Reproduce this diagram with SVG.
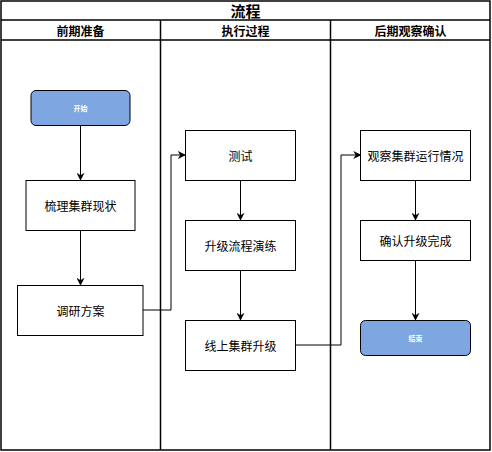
<svg xmlns="http://www.w3.org/2000/svg" width="492" height="452" viewBox="0 0 492 452">
<defs>
<marker id="ah" viewBox="0 0 10 10" refX="9" refY="5" markerWidth="8" markerHeight="8" orient="auto" markerUnits="userSpaceOnUse"><path d="M0,0 L10,5 L0,10 L3,5 Z" fill="#000"/></marker>
</defs>
<style>
text{font-family:"Noto Sans CJK SC","Noto Sans",sans-serif;text-anchor:middle;dominant-baseline:central;fill:#000}
.lane{fill:none;stroke:#000;stroke-width:1.5}
.box{fill:#fff;stroke:#000;stroke-width:1}
.term{fill:#7EA6E0;stroke:#000;stroke-width:1}
.t{font-size:12px}
.tw{font-size:7px;font-weight:bold;fill:#fff}
.h{font-size:12px;font-weight:bold}
.title{font-size:15px;font-weight:bold}
.c{fill:none;stroke:#000;stroke-width:1}
</style>
<rect width="492" height="452" fill="#fff"/>
<g id="pool">
<rect class="lane" x="1" y="1" width="489" height="449"/>
<line class="lane" x1="1" y1="20" x2="490" y2="20"/>
<line class="lane" x1="1" y1="40" x2="490" y2="40"/>
<line class="lane" x1="160.5" y1="20" x2="160.5" y2="450"/>
<line class="lane" x1="330.5" y1="20" x2="330.5" y2="450"/>
<text class="title" x="245.5" y="10.5">流程</text>
<text class="h" x="80.5" y="30">前期准备</text>
<text class="h" x="245.5" y="30">执行过程</text>
<text class="h" x="410.5" y="30">后期观察确认</text>
</g>
<g id="connectors">
<path class="c" d="M80.5,125 L80.5,180" marker-end="url(#ah)"/>
<path class="c" d="M80.5,230 L80.5,285" marker-end="url(#ah)"/>
<path class="c" d="M143,310 L171,310 L171,155 L185,155" marker-end="url(#ah)"/>
<path class="c" d="M240.5,180 L240.5,220" marker-end="url(#ah)"/>
<path class="c" d="M240.5,270 L240.5,320" marker-end="url(#ah)"/>
<path class="c" d="M296,345 L341,345 L341,155 L360.5,155" marker-end="url(#ah)"/>
<path class="c" d="M415.5,180 L415.5,220" marker-end="url(#ah)"/>
<path class="c" d="M415.5,260 L415.5,320" marker-end="url(#ah)"/>
</g>
<g id="start"><rect class="term" x="31" y="90.5" width="99" height="35" rx="5"/><text class="tw" x="80.5" y="108">开始</text></g>
<g id="sort"><rect class="box" x="26" y="180.5" width="109" height="50"/><text class="t" x="80.5" y="205.5">梳理集群现状</text></g>
<g id="research"><rect class="box" x="17.5" y="285.5" width="125.5" height="50"/><text class="t" x="80.5" y="310.5">调研方案</text></g>
<g id="test"><rect class="box" x="185.5" y="130.5" width="110" height="50"/><text class="t" x="240.5" y="155.5">测试</text></g>
<g id="drill"><rect class="box" x="185.5" y="220.5" width="110" height="50"/><text class="t" x="240.5" y="245.5">升级流程演练</text></g>
<g id="upgrade"><rect class="box" x="185.5" y="320.5" width="110" height="50"/><text class="t" x="240.5" y="345.5">线上集群升级</text></g>
<g id="observe"><rect class="box" x="360.5" y="130.5" width="110" height="50"/><text class="t" x="415.5" y="155.5">观察集群运行情况</text></g>
<g id="confirm"><rect class="box" x="360.5" y="220.5" width="110" height="40"/><text class="t" x="415.5" y="240.5">确认升级完成</text></g>
<g id="end"><rect class="term" x="360.5" y="320.5" width="110" height="35" rx="5"/><text class="tw" x="415.5" y="338">结束</text></g>
</svg>
